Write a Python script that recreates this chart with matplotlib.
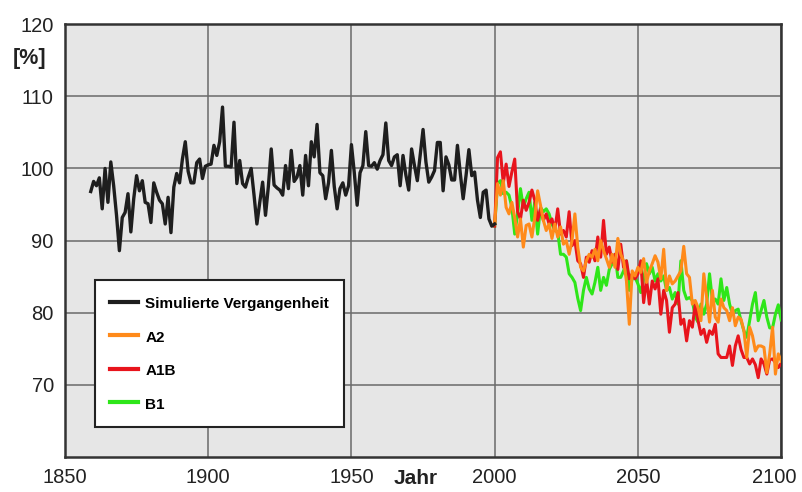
import numpy as np
import matplotlib
matplotlib.use("Agg")
import matplotlib.pyplot as plt
from matplotlib.transforms import ScaledTranslation

# --- data ---
hist_start = 1859
hist_vals = [
    96.8, 98.2, 97.6, 98.7, 94.4, 100.0, 95.3, 100.9, 97.6, 93.5,
    88.6, 93.2, 93.9, 96.5, 91.2, 95.8, 99.0, 96.9, 98.3, 95.3,
    95.1, 92.5, 98.0, 96.7, 95.6, 95.1, 92.3, 96.0, 91.1, 97.4,
    99.3, 98.0, 101.3, 103.7, 99.6, 98.0, 98.0, 100.8, 101.3, 98.6,
    100.3, 100.5, 100.6, 103.2, 101.8, 103.7, 108.5, 100.3, 100.3, 100.2,
    106.4, 97.9, 101.1, 97.9, 97.4, 98.8, 100.0, 96.3, 92.3, 95.3,
    98.1, 93.5, 97.5, 102.7, 97.7, 97.3, 97.0, 96.3, 100.4, 97.2,
    102.5, 98.2, 98.8, 100.4, 96.3, 101.8, 97.6, 103.7, 101.6, 106.1,
    99.4,
    99.0, 95.8, 98.0, 102.5, 97.5, 94.4, 97.2, 98.0, 96.3, 97.6,
    103.3, 99.4, 94.9, 99.4, 100.4, 105.1, 100.4, 100.3, 100.8, 99.9,
    101.1, 101.9, 106.3, 101.1, 100.4, 101.6, 101.9, 97.6, 101.8, 99.1,
    97.0, 102.7, 100.4, 98.3, 101.8, 105.4, 100.9, 98.1, 98.8, 99.7,
    103.6, 103.6,
    96.9, 101.6, 100.5, 98.4, 98.4, 103.2, 99.3, 95.8, 99.0, 102.6,
    99.0, 99.5, 95.6, 93.2, 96.7, 97.0, 93.0, 92.0, 92.3,
]

scen_start = 2000
a2_vals = [
    92.3, 97.9, 96.3, 98.3, 94.6, 93.7, 95.3, 93.2, 90.5, 93.0,
    89.1, 92.1, 92.3, 90.5, 93.2, 96.9, 94.9, 92.8, 91.4, 92.3,
    90.3, 92.3, 90.5, 91.9, 89.5, 90.0, 88.1, 90.0, 93.7, 89.1,
    86.3, 85.8, 87.2, 88.1, 87.7, 88.8, 87.2, 90.0, 88.6, 87.5,
    86.3, 88.1, 86.3, 90.3, 88.1, 87.2, 84.4, 78.4,
    85.8, 85.1, 86.3, 85.6, 87.5, 84.2, 85.8, 86.8, 87.9, 87.0,
    84.7, 88.8, 83.1, 85.1, 84.0, 84.4, 85.1, 85.8, 89.2, 85.4,
    84.9, 81.2, 81.7, 80.7, 78.9, 85.4, 82.1, 78.7, 83.1, 79.4,
    78.7, 81.9, 80.7, 80.3, 78.9, 80.7, 78.2, 79.4, 79.1,
    77.5, 73.8, 78.0, 76.8, 74.7, 75.4, 75.4, 75.2, 71.7, 74.3,
    78.0, 71.5, 74.3, 73.3,
]
a1b_vals = [
    92.0, 101.5, 102.3, 98.0, 100.6, 97.5, 99.5, 101.3, 94.0, 93.0,
    95.6, 94.2, 95.3, 97.0, 95.6, 92.8, 94.4, 92.8, 93.7, 92.3,
    93.0, 91.4, 94.4, 90.9, 91.4, 90.5, 94.0, 89.3, 90.0, 87.2,
    86.8, 84.9, 87.7, 87.0, 88.6, 87.2, 90.5, 87.7, 92.8, 88.1,
    89.1, 87.0, 88.1, 86.0,
    89.5, 86.3, 87.2, 84.7, 85.4, 84.7, 85.4, 87.2, 81.4, 84.7,
    81.2, 84.4, 83.3, 84.7, 79.8, 83.1, 81.7, 77.3, 80.7, 81.2,
    82.8, 78.4, 79.1, 76.1, 78.9, 78.0, 81.2, 78.9, 77.0, 77.7,
    75.9, 77.5, 77.0, 78.4, 74.3, 73.8, 73.8, 73.8, 75.4, 72.7,
    75.4, 76.8, 74.9, 73.8, 73.8, 72.9, 73.6, 72.8, 71.0, 73.6,
    72.9, 71.5, 73.5, 73.6, 73.1, 72.4, 73.0,
]
b1_vals = [
    92.0, 97.9, 98.3, 96.5, 96.7, 96.3, 94.6, 90.9, 93.7, 97.2,
    94.6, 95.8, 96.7, 92.8, 95.3, 90.9, 94.6, 94.0, 94.4, 93.7,
    92.3, 91.4, 91.2, 88.1, 88.1, 87.7, 85.4, 84.9, 84.2, 82.0,
    80.3, 83.1, 84.9, 83.3, 82.6, 84.2, 86.3, 83.1, 84.9, 83.8,
    86.0, 86.8, 88.1, 84.9, 84.9, 85.8,
    87.2, 83.1, 84.7, 84.9, 84.0, 82.8, 84.7, 86.8, 85.4, 86.3,
    84.4, 85.4, 84.4, 85.1, 83.1, 83.5, 81.9, 82.8, 81.2, 87.2,
    83.1, 81.9, 82.1, 81.7, 79.4, 78.7, 81.2, 79.8, 81.2, 85.4,
    81.7, 81.9, 81.2, 84.7, 81.7, 83.5, 81.2, 79.8, 80.3, 80.5,
    78.9, 77.5, 76.6, 78.9, 81.2, 82.8, 78.9, 80.3, 81.7, 79.4,
    77.9, 77.9, 79.8, 81.1, 79.0,
]

labels = ["Simulierte Vergangenheit", "A2", "A1B", "B1"]
colors = ["#1e1e1e", "#ff8a1a", "#e8141c", "#2ee619"]

x_ticks = [1850, 1900, 1950, 2000, 2050, 2100]
y_ticks = [70, 80, 90, 100, 110, 120]

plt.rcParams['font.family'] = ['Liberation Sans', 'DejaVu Sans']

fig = plt.figure(figsize=(8.02, 4.92), dpi=100)
ax = fig.add_axes([0.081, 0.071, 0.893, 0.880])
ax.set_facecolor("#e6e6e6")

hist_years = hist_start + np.arange(len(hist_vals))
a2_years = scen_start + np.arange(len(a2_vals))
a1b_years = scen_start + np.arange(len(a1b_vals))
b1_years = scen_start + np.arange(len(b1_vals))

ax.plot(b1_years, b1_vals, color=colors[3], lw=2.2, zorder=3)
ax.plot(a1b_years, a1b_vals, color=colors[2], lw=2.2, zorder=4)
ax.plot(a2_years, a2_vals, color=colors[1], lw=2.2, zorder=5)
ax.plot(hist_years, hist_vals, color=colors[0], lw=2.4, zorder=6)

ax.set_xlim(1850, 2100)
ax.set_ylim(60, 120)
ax.set_xticks(x_ticks)
ax.set_yticks(y_ticks)
ax.grid(True, color="#6a6a6a", lw=1.1)
ax.set_axisbelow(True)
ax.tick_params(length=0, labelsize=14.5, colors="#222222", pad=8)
for s in ax.spines.values():
    s.set_linewidth(1.8)
    s.set_color("#333333")

# last x label would run off the right edge, nudge it in a bit
last = ax.get_xticklabels()[-1]
last.set_transform(last.get_transform() + ScaledTranslation(-5 / 72, 0, fig.dpi_scale_trans))

fig.text(0.016, 0.870, "[%]", fontsize=15.5, fontweight="bold", color="#222222")
fig.text(0.518, 0.008, "Jahr", fontsize=15, fontweight="bold", color="#222222",
         ha="center", va="bottom")

handles = [plt.Line2D([], [], color=c, lw=3) for c in colors]
leg = ax.legend(handles, labels, loc="lower left", bbox_to_anchor=(0.042, 0.069),
                prop={'weight': 'bold', 'size': 11}, frameon=True,
                fancybox=False, framealpha=1, edgecolor="#222222",
                handlelength=1.8, handleheight=1.2, labelspacing=1.15,
                borderpad=1.0, handletextpad=0.5, borderaxespad=0)
leg.get_frame().set_linewidth(1.5)

fig.savefig("out.png", dpi=100)
